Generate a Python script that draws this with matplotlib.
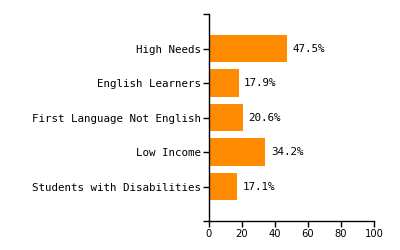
import matplotlib
matplotlib.use('Agg')
import matplotlib.pyplot as plt

categories = ['High Needs', 'English Learners', 'First Language Not English',
              'Low Income', 'Students with Disabilities']
values = [47.5, 17.9, 20.6, 34.2, 17.1]
xticks = [0, 20, 40, 60, 80, 100]

fig = plt.figure(figsize=(4, 2.5), dpi=100)
ax = fig.add_axes([0.5225, 0.116, 0.4125, 0.828])

pos = list(range(len(categories)))
ax.barh(pos, values, height=0.8, color='#FF8C00')
for p, v in zip(pos, values):
    ax.text(v + 3.4, p, f'{v:.1f}%', va='center', ha='left',
            family='DejaVu Sans Mono', fontsize=7.8)

ax.set_xlim(0, 100)
ax.set_ylim(5, -1)
ax.set_xticks(xticks)
ax.set_xticklabels([str(t) for t in xticks], fontsize=7.2)
ax.set_yticks(pos)
ax.set_yticklabels(categories, family='DejaVu Sans Mono', fontsize=7.8)
ax.set_yticks([-1, 5], minor=True)
ax.tick_params(axis='y', which='both', length=4, width=1, pad=2)
ax.tick_params(axis='x', length=4, width=1, pad=1.5)

for s in ['top', 'right']:
    ax.spines[s].set_visible(False)
for s in ['left', 'bottom']:
    ax.spines[s].set_linewidth(1)

fig.savefig('out.png', dpi=100)
